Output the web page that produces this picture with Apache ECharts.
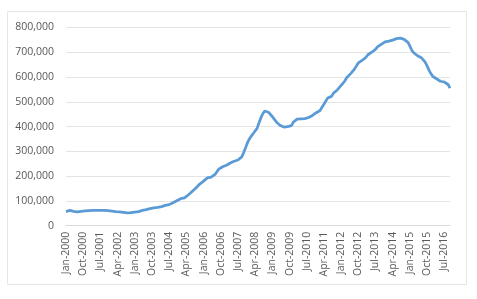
<!DOCTYPE html>
<html>
<head>
<meta charset="utf-8">
<script src="https://cdn.jsdelivr.net/npm/echarts@6/dist/echarts.min.js"></script>
<style>html,body{margin:0;padding:0;background:#fff;}#c{width:477px;height:299px;}</style>
</head>
<body>
<div id="c"></div>
<script>
var monthNames = ['Jan','Feb','Mar','Apr','May','Jun','Jul','Aug','Sep','Oct','Nov','Dec'];
var startYear = 2000;
var values = [
57,60,62,61,58,53,56,57,58,59,60,61,
61,62,62,62,62,62,62,62,62,61,61,60,
59,58,57,56,56,55,54,53,52,52,53,54,
55,56,57,60,62,63,65,67,69,70,72,72,
74,77,77,79,82,81,85,89,93,98,101,104,
109,108,112,118,124,130,138,145,152,160,168,173,
180,188,193,198,196,195,207,218,228,235,238,241,
244,248,253,259,260,254,265,272,278,295,315,335,
350,362,372,380,393,415,435,452,463,463,458,450,
440,430,420,412,405,400,398,397,400,405,404,418,
425,430,432,431,432,432,433,437,442,445,450,456,
458,465,478,490,503,515,522,522,535,538,548,556,
566,575,585,598,606,614,622,632,645,657,665,667,
670,680,690,697,700,703,712,722,728,732,738,742,
744,745,747,749,751,755,758,757,758,752,746,740,
725,708,698,690,686,683,678,670,660,645,628,614,
602,595,593,592,583,580,580,577,570,555
].map(function(v){return v*1000;});
var categories = values.map(function(v,i){
  return monthNames[i%12] + '-' + (startYear + Math.floor(i/12));
});
var yTicks = [0,100000,200000,300000,400000,500000,600000,700000,800000];

var chart = echarts.init(document.getElementById('c'), null, {renderer:'canvas'});
chart.setOption({
  animation:false,
  graphic:[{type:'rect',shape:{x:7.5,y:11.5,width:459,height:273},style:{fill:'none',stroke:'#e6e6e6',lineWidth:1},silent:true}],
  grid:{left:66,right:27,top:27.5,bottom:73.3},
  xAxis:{
    type:'category', data:categories, boundaryGap:false,
    axisLine:{show:true,lineStyle:{color:'#d9d9d9'}},
    axisTick:{show:false},
    axisLabel:{interval:8,rotate:90,color:'#595959',fontSize:10.5,fontFamily:'Open Sans, sans-serif',margin:6}
  },
  yAxis:{
    type:'value', min:yTicks[0], max:yTicks[yTicks.length-1], interval:100000,
    axisLine:{show:false}, axisTick:{show:false},
    splitLine:{lineStyle:{color:'#e4e4e4'}},
    axisLabel:{color:'#595959',fontSize:10.5,fontFamily:'Open Sans, sans-serif',margin:12,
      formatter:function(v){return v.toLocaleString('en-US');}}
  },
  series:[{type:'line',data:values,showSymbol:false,symbol:'none',
    lineStyle:{color:'#5b9bd5',width:2.75},itemStyle:{color:'#5b9bd5'}}]
});
</script>
</body>
</html>
